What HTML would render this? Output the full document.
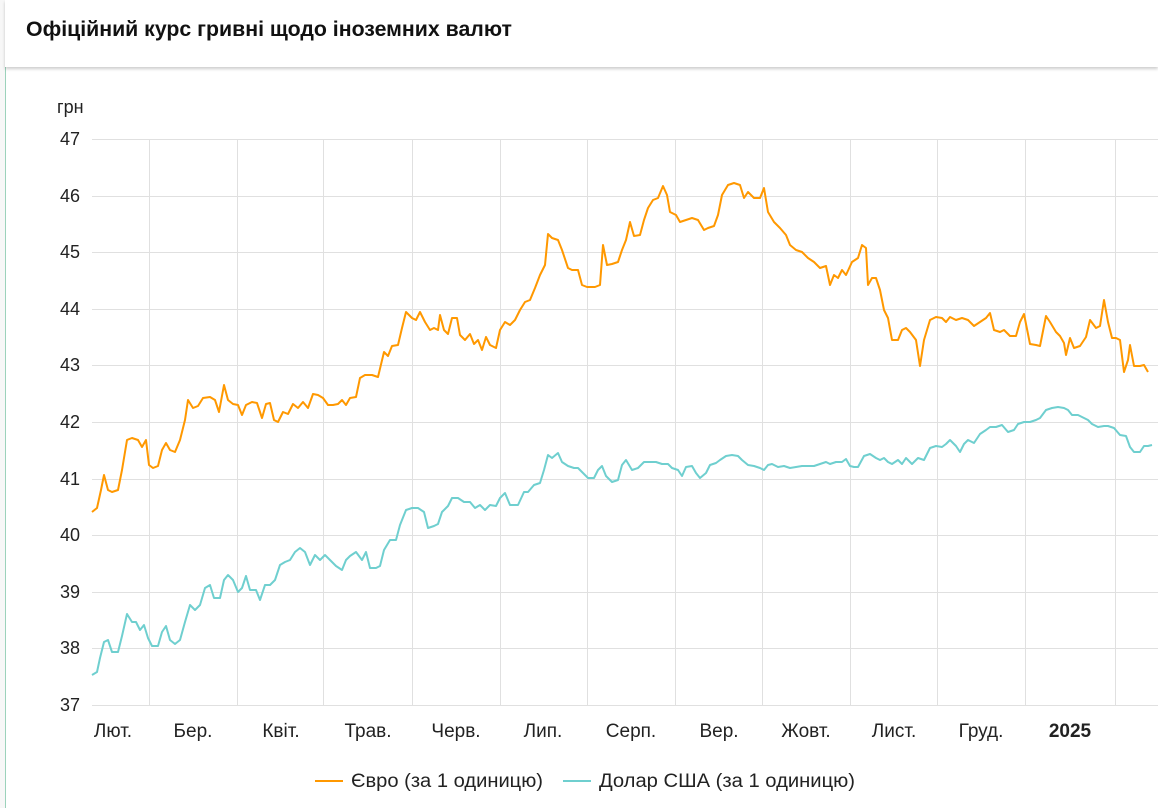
<!DOCTYPE html>
<html><head><meta charset="utf-8"><style>
html,body{margin:0;padding:0;width:1158px;height:808px;overflow:hidden;background:#f7f7f7;font-family:"Liberation Sans","DejaVu Sans",sans-serif;}
.card{position:absolute;left:5px;top:0;width:1153px;height:808px;background:#fff;border-left:1px solid #9cd2bb;}
.title{position:absolute;left:5px;top:0;width:1153px;height:67px;background:#fff;box-shadow:0 2px 3px rgba(0,0,0,0.2);}
.title span{position:absolute;left:21px;top:17px;font-size:21.3px;font-weight:bold;color:#111;}
svg{position:absolute;left:0;top:0}
</style></head><body>
<div class="card"></div>
<div class="title"><span>Офіційний курс гривні щодо іноземних валют</span></div>
<svg width="1158" height="808" font-family="Liberation Sans, DejaVu Sans, sans-serif">
<g stroke="#e0e0e0" stroke-width="1">
<line x1="92" y1="139.5" x2="1158" y2="139.5"/><line x1="92" y1="196.5" x2="1158" y2="196.5"/><line x1="92" y1="252.5" x2="1158" y2="252.5"/><line x1="92" y1="309.5" x2="1158" y2="309.5"/><line x1="92" y1="365.5" x2="1158" y2="365.5"/><line x1="92" y1="422.5" x2="1158" y2="422.5"/><line x1="92" y1="479.5" x2="1158" y2="479.5"/><line x1="92" y1="535.5" x2="1158" y2="535.5"/><line x1="92" y1="592.5" x2="1158" y2="592.5"/><line x1="92" y1="648.5" x2="1158" y2="648.5"/><line x1="92" y1="705.5" x2="1158" y2="705.5"/>
<line x1="149.5" y1="139" x2="149.5" y2="705"/><line x1="237.5" y1="139" x2="237.5" y2="705"/><line x1="323.5" y1="139" x2="323.5" y2="705"/><line x1="412.5" y1="139" x2="412.5" y2="705"/><line x1="500.5" y1="139" x2="500.5" y2="705"/><line x1="587.5" y1="139" x2="587.5" y2="705"/><line x1="675.5" y1="139" x2="675.5" y2="705"/><line x1="762.5" y1="139" x2="762.5" y2="705"/><line x1="850.5" y1="139" x2="850.5" y2="705"/><line x1="937.5" y1="139" x2="937.5" y2="705"/><line x1="1025.5" y1="139" x2="1025.5" y2="705"/><line x1="1115.5" y1="139" x2="1115.5" y2="705"/>
</g>
<g font-size="18" fill="#222" text-anchor="end">
<text x="80" y="145">47</text><text x="80" y="202">46</text><text x="80" y="258">45</text><text x="80" y="315">44</text><text x="80" y="371">43</text><text x="80" y="428">42</text><text x="80" y="485">41</text><text x="80" y="541">40</text><text x="80" y="598">39</text><text x="80" y="654">38</text><text x="80" y="711">37</text>
</g>
<text x="57" y="113" font-size="18" fill="#222">грн</text>
<g font-size="19" fill="#222" text-anchor="middle">
<text x="113" y="737">Лют.</text><text x="193" y="737">Бер.</text><text x="281" y="737">Квіт.</text><text x="368" y="737">Трав.</text><text x="456" y="737">Черв.</text><text x="543" y="737">Лип.</text><text x="631" y="737">Серп.</text><text x="719" y="737">Вер.</text><text x="806" y="737">Жовт.</text><text x="894" y="737">Лист.</text><text x="981" y="737">Груд.</text><text x="1070" y="737" font-weight="bold">2025</text>
</g>
<polyline fill="none" stroke="#ff9800" stroke-width="2" stroke-linejoin="round" points="92,512 97,508 101,490 104,475 108,490 112,492 118,490 122,470 127,440 132,438 138,440 142,447 146,440 149,465 153,468 158,466 162,450 166,443 170,450 175,452 180,440 185,420 188,400 193,408 198,406 203,398 210,397 215,400 219,412 224,385 228,400 233,404 238,405 242,415 246,405 252,402 257,403 262,418 266,404 270,403 274,420 278,422 283,412 288,414 293,404 298,408 303,402 308,408 313,394 318,395 323,398 328,405 333,405 338,404 342,400 346,405 350,398 356,397 360,378 365,375 372,375 378,377 384,352 388,356 392,346 398,345 402,328 406,312 412,318 416,320 420,312 425,322 430,330 434,328 438,330 440,315 444,330 448,334 452,318 457,318 460,335 465,340 470,334 474,344 478,340 482,350 486,337 490,345 496,348 500,330 505,322 510,325 515,320 520,310 525,302 530,300 535,288 540,275 545,265 548,234 552,238 558,240 562,250 568,268 572,270 578,270 582,285 587,287 595,287 600,285 603,245 607,265 612,264 618,262 622,250 626,240 630,222 634,236 640,235 644,220 648,208 653,200 658,198 663,186 667,195 670,212 676,215 680,222 686,220 692,218 698,220 704,230 708,228 714,226 718,215 722,195 728,185 734,183 740,185 744,198 748,192 754,198 760,198 764,188 768,212 774,222 780,228 786,235 790,245 796,250 802,252 808,258 814,262 820,268 826,266 830,285 834,275 838,278 842,270 846,275 852,262 858,258 862,245 866,248 868,285 872,278 876,278 880,290 884,310 888,318 892,340 898,340 902,330 906,328 910,332 916,340 920,366 924,340 930,320 936,317 942,318 946,322 950,317 956,320 962,318 968,320 974,326 980,322 986,318 990,313 994,330 1000,332 1004,330 1010,336 1016,336 1020,322 1024,314 1030,344 1036,345 1040,346 1046,316 1050,322 1056,332 1060,336 1064,343 1066,355 1070,338 1074,348 1080,346 1086,337 1090,320 1096,328 1100,326 1104,300 1108,322 1112,338 1116,338 1120,340 1124,372 1128,360 1130,345 1134,366 1140,366 1144,365 1148,372"/>
<polyline fill="none" stroke="#6fcfcf" stroke-width="2" stroke-linejoin="round" points="92,675 97,672 100,658 104,642 108,640 112,652 118,652 122,636 127,614 132,622 136,622 140,630 144,625 148,638 152,646 158,646 162,632 166,626 170,640 175,644 180,640 185,622 190,605 195,610 200,605 205,588 210,585 214,598 220,598 224,580 228,575 233,580 238,592 242,588 246,576 250,590 256,590 260,600 265,585 270,585 275,580 280,565 285,562 290,560 295,552 300,548 305,552 310,565 315,555 320,560 325,555 330,560 336,566 342,570 346,560 350,556 356,552 362,560 366,552 370,568 376,568 380,566 384,550 390,540 396,540 400,525 406,510 412,508 418,508 424,512 428,528 434,526 438,524 442,512 448,506 452,498 458,498 464,502 470,502 475,508 480,505 485,510 490,505 496,506 500,498 505,493 510,505 518,505 524,492 528,492 534,485 540,483 544,470 548,455 552,458 558,453 562,462 568,466 574,468 578,468 582,472 588,478 594,478 598,470 602,466 606,476 612,482 618,480 622,465 626,460 632,470 638,468 644,462 650,462 656,462 662,464 668,464 672,468 678,470 682,476 686,467 692,466 696,473 700,478 706,473 710,465 716,463 720,460 726,456 732,455 738,456 742,460 748,465 754,466 760,468 764,470 768,465 772,464 778,467 784,466 790,468 796,467 802,466 808,466 814,466 820,464 826,462 830,464 836,462 842,462 846,459 850,466 854,467 858,467 864,456 870,454 876,458 880,460 884,458 888,462 892,464 898,460 902,464 906,458 912,464 918,458 924,460 930,448 936,446 942,447 946,444 950,440 956,446 960,452 964,444 968,440 974,443 980,434 986,430 990,427 996,427 1002,425 1008,432 1014,430 1018,424 1024,422 1030,422 1036,420 1040,418 1046,410 1052,408 1058,407 1064,408 1068,410 1072,415 1078,415 1084,418 1088,420 1092,424 1098,427 1104,426 1108,426 1114,428 1120,435 1126,436 1130,447 1134,452 1140,452 1144,446 1148,446 1152,445"/>
<line x1="315" y1="781" x2="343" y2="781" stroke="#ff9800" stroke-width="2"/>
<text x="351" y="787" font-size="19" fill="#222" textLength="192" lengthAdjust="spacingAndGlyphs">Євро (за 1 одиницю)</text>
<line x1="563" y1="781" x2="591" y2="781" stroke="#6fcfcf" stroke-width="2"/>
<text x="599" y="787" font-size="19" fill="#222" textLength="256" lengthAdjust="spacingAndGlyphs">Долар США (за 1 одиницю)</text>
</svg>
</body></html>
